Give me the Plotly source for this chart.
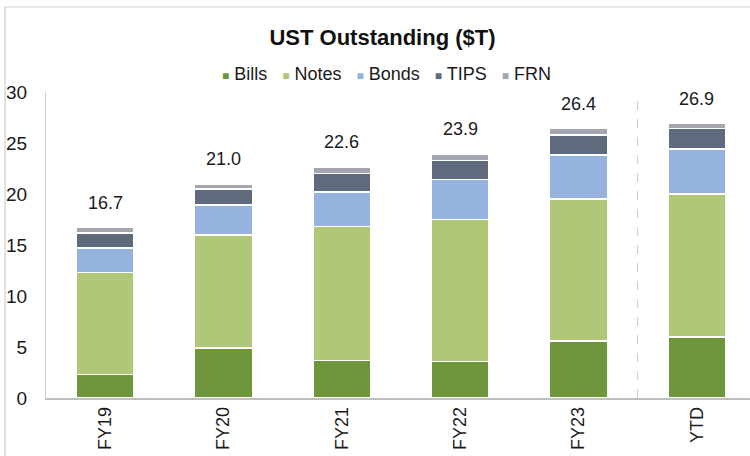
import plotly.graph_objects as go

categories = ["FY19", "FY20", "FY21", "FY22", "FY23", "YTD"]
bills = [2.3, 4.9, 3.7, 3.6, 5.6, 6.0]
notes = [10.0, 11.1, 13.1, 13.9, 13.9, 14.0]
bonds = [2.4, 2.9, 3.4, 3.9, 4.3, 4.4]
tips = [1.5, 1.6, 1.8, 1.9, 2.0, 2.0]
frn = [0.5, 0.5, 0.6, 0.6, 0.6, 0.5]
totals = [16.7, 21.0, 22.6, 23.9, 26.4, 26.9]
y_ticks = [0, 5, 10, 15, 20, 25, 30]

series = [
    ("Bills", bills, "#70963c"),
    ("Notes", notes, "#b0c778"),
    ("Bonds", bonds, "#95b3de"),
    ("TIPS", tips, "#5f6b7d"),
    ("FRN", frn, "#a3a5b0"),
]

FONT = "Liberation Sans, Arial, sans-serif"
W, H = 750, 456
ML, MR, MT, MB = 46, 0, 92, 58

fig = go.Figure()
for name, vals, color in series:
    fig.add_trace(go.Bar(
        x=categories, y=vals, name=name,
        marker=dict(color=color, line=dict(color="white", width=1.5)),
        hoverinfo="x+y+name",
    ))

for c, t in zip(categories, totals):
    fig.add_annotation(x=c, y=t, text=f"{t:.1f}", showarrow=False,
                       yanchor="bottom", yshift=13,
                       font=dict(family=FONT, size=18, color="#1a1a1a"))

# legend built as text, in the reference's compact style
legend_text = "&nbsp;&nbsp;&nbsp;".join(
    f'<span style="color:{color};font-size:12px">■</span> {name}' for name, _, color in series
)
fig.add_annotation(xref="paper", yref="paper", x=(386 - ML) / (W - ML - MR),
                   y=(H - MB - 74) / (H - MT - MB),
                   text=legend_text, showarrow=False, xanchor="center", yanchor="middle",
                   font=dict(family=FONT, size=18, color="#1a1a1a"))

# dashed separator between FY23 and YTD
fig.add_shape(type="line", xref="x", yref="paper", x0=4.5, x1=4.5, y0=0, y1=1,
              line=dict(color="#cccccc", width=1, dash="dash"))

# outer frame (pixel -> paper conversion)
pw = W - ML - MR
ph = H - MT - MB
def px_x(p):
    return (p - ML) / pw
def px_y(p):
    return (H - MB - p) / ph
fig.add_shape(type="rect", xref="paper", yref="paper",
              x0=px_x(5), x1=px_x(W + 10), y0=px_y(H + 10), y1=px_y(7),
              line=dict(color="#cfcfcf", width=1.2), fillcolor="rgba(0,0,0,0)", layer="below")

fig.update_layout(
    width=W, height=H,
    margin=dict(l=ML, r=MR, t=MT, b=MB, autoexpand=False),
    barmode="stack",
    bargap=0.51,
    plot_bgcolor="white",
    paper_bgcolor="white",
    font=dict(family=FONT, color="#1a1a1a"),
    title=dict(text="<b>UST Outstanding ($T)</b>", x=0.51, xanchor="center",
               y=1 - 37 / H, yanchor="middle", yref="container",
               font=dict(family=FONT, size=22, color="#111111")),
    showlegend=False,
)
fig.update_xaxes(
    type="category", range=[-0.5, 5.45], automargin=False,
    showline=True, linecolor="#bfbfbf", linewidth=1.5,
    ticks="", tickangle=-90, tickfont=dict(family=FONT, size=18, color="#1a1a1a"),
    showgrid=False, zeroline=False,
)
fig.update_yaxes(
    range=[0, 30], tickvals=y_ticks, automargin=False,
    showline=True, linecolor="#d0d0d0", linewidth=1,
    ticks="", ticklabelstandoff=14,
    tickfont=dict(family=FONT, size=19, color="#1a1a1a"),
    showgrid=False, zeroline=False,
)

fig.write_html("out.html", config={"displayModeBar": False},
               post_script="document.body.style.margin='0';document.body.style.overflow='hidden';")
